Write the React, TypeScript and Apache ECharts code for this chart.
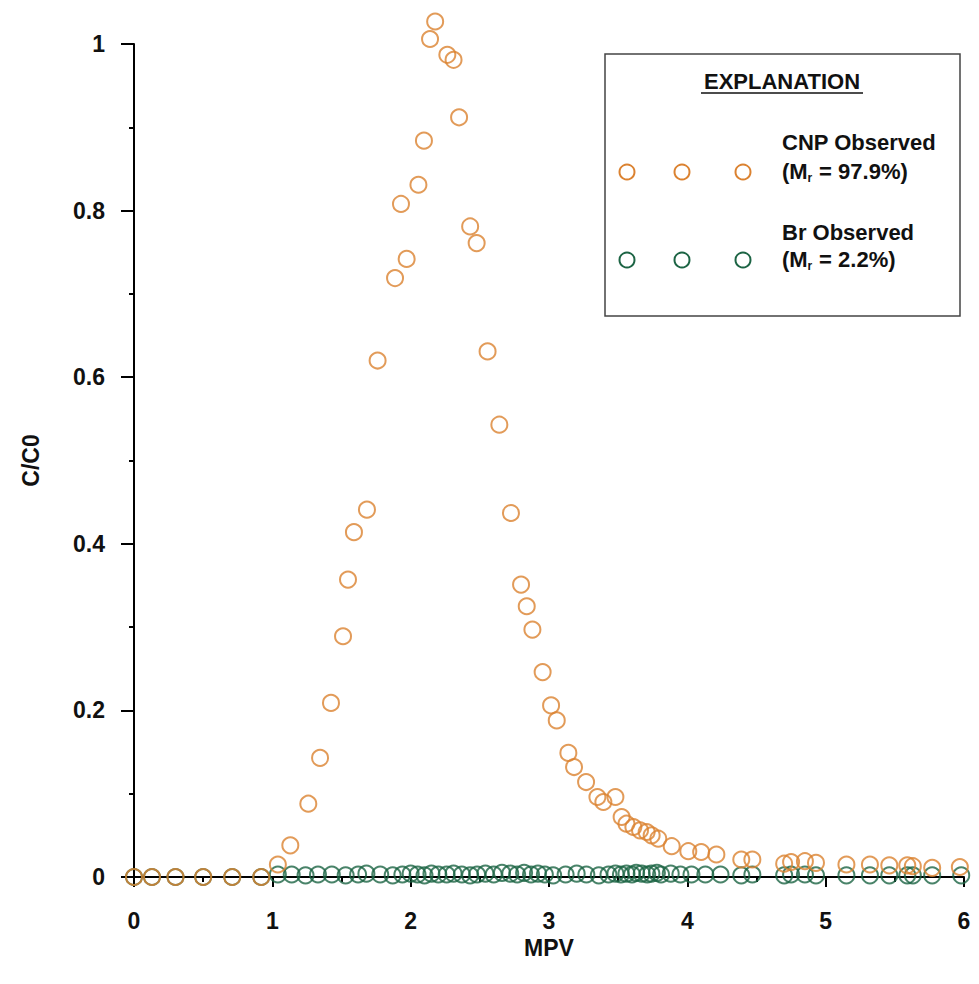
import React, { useEffect, useRef } from "react";
import * as echarts from "echarts";

// Normalized concentration (C/C0) against pore volumes (MPV)
const CNP_MPV = [
  0, 0.13, 0.3, 0.5, 0.71, 0.92, 1.04, 1.13, 1.26, 1.345, 1.424, 1.511, 1.547, 1.59, 1.684,
  1.761, 1.887, 1.93, 1.971, 2.056, 2.096, 2.14, 2.177, 2.265, 2.31, 2.35, 2.43, 2.477, 2.556,
  2.641, 2.725, 2.798, 2.839, 2.88, 2.954, 3.015, 3.056, 3.14, 3.181, 3.268, 3.35, 3.393, 3.48,
  3.525, 3.56, 3.61, 3.658, 3.706, 3.742, 3.79, 3.887, 4.007, 4.1, 4.21, 4.39, 4.47, 4.7, 4.75,
  4.85, 4.93, 5.15, 5.32, 5.46, 5.59, 5.63, 5.77, 5.97,
];
const CNP_C = [
  0, 0, 0, 0, 0, 0, 0.015, 0.038, 0.088, 0.143, 0.209, 0.289, 0.357, 0.414, 0.441,
  0.62, 0.719, 0.808, 0.742, 0.831, 0.884, 1.006, 1.027, 0.987, 0.981, 0.912, 0.781, 0.761, 0.631,
  0.543, 0.437, 0.351, 0.325, 0.297, 0.246, 0.206, 0.188, 0.149, 0.132, 0.114, 0.096, 0.09, 0.096,
  0.072, 0.064, 0.06, 0.056, 0.054, 0.05, 0.046, 0.037, 0.031, 0.03, 0.027, 0.021, 0.021, 0.016, 0.018,
  0.019, 0.017, 0.015, 0.015, 0.014, 0.014, 0.013, 0.011, 0.012,
];

const BR_MPV = [
  0, 0.13, 0.3, 0.5, 0.71, 0.92, 1.04, 1.14, 1.24, 1.33, 1.43, 1.53, 1.62, 1.68, 1.78, 1.87,
  1.94, 2.0, 2.05, 2.1, 2.15, 2.2, 2.26, 2.31, 2.37, 2.43, 2.48, 2.54, 2.6, 2.66, 2.72, 2.77,
  2.82, 2.87, 2.92, 2.97, 3.03, 3.12, 3.2, 3.27, 3.36, 3.43, 3.48, 3.52, 3.56, 3.6, 3.63, 3.67,
  3.71, 3.74, 3.78, 3.81, 3.88, 3.95, 4.03, 4.13, 4.24, 4.39, 4.47, 4.7, 4.75, 4.85, 4.93, 5.15,
  5.32, 5.46, 5.59, 5.63, 5.77, 5.98,
];
const BR_C = [
  0, 0, 0, 0, 0, 0, 0.003, 0.003, 0.002, 0.003, 0.003, 0.002, 0.003, 0.004, 0.003, 0.002,
  0.003, 0.004, 0.003, 0.002, 0.004, 0.003, 0.003, 0.004, 0.003, 0.002, 0.003, 0.004, 0.003, 0.005, 0.004, 0.003,
  0.005, 0.003, 0.004, 0.003, 0.002, 0.003, 0.004, 0.003, 0.002, 0.003, 0.004, 0.003, 0.004, 0.003, 0.005, 0.004,
  0.003, 0.004, 0.005, 0.003, 0.004, 0.003, 0.003, 0.003, 0.003, 0.002, 0.003, 0.002, 0.003, 0.003, 0.002, 0.002,
  0.002, 0.002, 0.002, 0.002, 0.002, 0.002,
];

const X_TICKS = [0, 1, 2, 3, 4, 5, 6];
const Y_TICKS = [0, 0.2, 0.4, 0.6, 0.8, 1];

const CNP_COLOR = "#DB8230";
const BR_COLOR = "#1C6444";
const FONT = "'Liberation Sans', Arial, sans-serif";
const INK = "#111";

const pairs = (xs: number[], ys: number[]) => xs.map((x, i) => [x, ys[i]]);

export default function App() {
  const ref = useRef<HTMLDivElement>(null);

  useEffect(() => {
    if (!ref.current) return;
    const chart = echarts.init(ref.current, undefined, { renderer: "svg" });

    const legendCircles = (y: number, color: string) =>
      [627, 682, 743].map((x) => ({
        type: "circle",
        shape: { cx: x, cy: y, r: 7.5 },
        style: { fill: "none", stroke: color, lineWidth: 2 },
      }));

    const big = { fontFamily: FONT, fontWeight: "bold", fontSize: 22, fill: INK };
    const small = { fontFamily: FONT, fontWeight: "bold", fontSize: 12, fill: INK };

    // "(Mr = value)" with a subscript r, laid out as three pieces
    const massRow = (y: number, value: string) => [
      { type: "text", x: 782, y, style: { ...big, text: "(M", verticalAlign: "middle" } },
      { type: "text", x: 807.5, y: y + 7, style: { ...small, text: "r", verticalAlign: "middle" } },
      { type: "text", x: 813, y, style: { ...big, text: ` = ${value})`, verticalAlign: "middle" } },
    ];

    chart.setOption({
      animation: false,
      backgroundColor: "#fff",
      grid: { left: 134, right: 15, top: 44, bottom: 107 },
      xAxis: {
        type: "value",
        min: X_TICKS[0],
        max: X_TICKS[X_TICKS.length - 1],
        interval: 1,
        name: "MPV",
        nameLocation: "middle",
        nameGap: 56,
        nameTextStyle: { fontFamily: FONT, fontWeight: "bold", fontSize: 23, color: INK },
        axisLine: { lineStyle: { color: "#000", width: 2 } },
        axisTick: { length: 10, lineStyle: { color: "#000", width: 2 } },
        minorTick: { show: true, splitNumber: 2, length: 5, lineStyle: { color: "#000", width: 2 } },
        splitLine: { show: false },
        axisLabel: { margin: 32, fontFamily: FONT, fontWeight: "bold", fontSize: 23, color: INK },
      },
      yAxis: {
        type: "value",
        min: Y_TICKS[0],
        max: Y_TICKS[Y_TICKS.length - 1],
        interval: 0.2,
        name: "C/C0",
        nameLocation: "middle",
        nameGap: 92,
        nameTextStyle: { fontFamily: FONT, fontWeight: "bold", fontSize: 23, color: INK },
        axisLine: { lineStyle: { color: "#000", width: 2 } },
        axisTick: { length: 13, lineStyle: { color: "#000", width: 2 } },
        minorTick: { show: true, splitNumber: 2, length: 5, lineStyle: { color: "#000", width: 2 } },
        splitLine: { show: false },
        axisLabel: {
          margin: 29,
          fontFamily: FONT,
          fontWeight: "bold",
          fontSize: 23,
          color: INK,
          formatter: (v: number) => String(Math.round(v * 10) / 10),
        },
      },
      series: [
        {
          name: "Br Observed",
          type: "scatter",
          clip: false,
          data: pairs(BR_MPV, BR_C),
          symbol: "circle",
          symbolSize: 16,
          itemStyle: { color: "rgba(0,0,0,0)", borderColor: BR_COLOR, borderWidth: 2 },
        },
        {
          name: "CNP Observed",
          type: "scatter",
          clip: false,
          data: pairs(CNP_MPV, CNP_C),
          symbol: "circle",
          symbolSize: 16,
          itemStyle: { color: "rgba(0,0,0,0)", borderColor: CNP_COLOR, borderWidth: 2 },
        },
      ],
      graphic: [
        {
          type: "rect",
          shape: { x: 605, y: 54, width: 355, height: 262 },
          style: { fill: "#fff", stroke: "#444", lineWidth: 1.5 },
        },
        {
          type: "text",
          x: 782,
          y: 81,
          style: { ...big, text: "EXPLANATION", align: "center", verticalAlign: "middle" },
        },
        {
          type: "line",
          shape: { x1: 701, y1: 93, x2: 863, y2: 93 },
          style: { stroke: INK, lineWidth: 1.5 },
        },
        {
          type: "text",
          x: 782,
          y: 142,
          style: { ...big, text: "CNP Observed", verticalAlign: "middle" },
        },
        ...massRow(171, "97.9%"),
        ...legendCircles(172, CNP_COLOR),
        {
          type: "text",
          x: 782,
          y: 232,
          style: { ...big, text: "Br Observed", verticalAlign: "middle" },
        },
        ...massRow(259, "2.2%"),
        ...legendCircles(260, BR_COLOR),
      ],
    });

    return () => chart.dispose();
  }, []);

  return (
    <div
      ref={ref}
      style={{ position: "fixed", left: 0, top: 0, width: 979, height: 984, background: "#fff" }}
    />
  );
}
